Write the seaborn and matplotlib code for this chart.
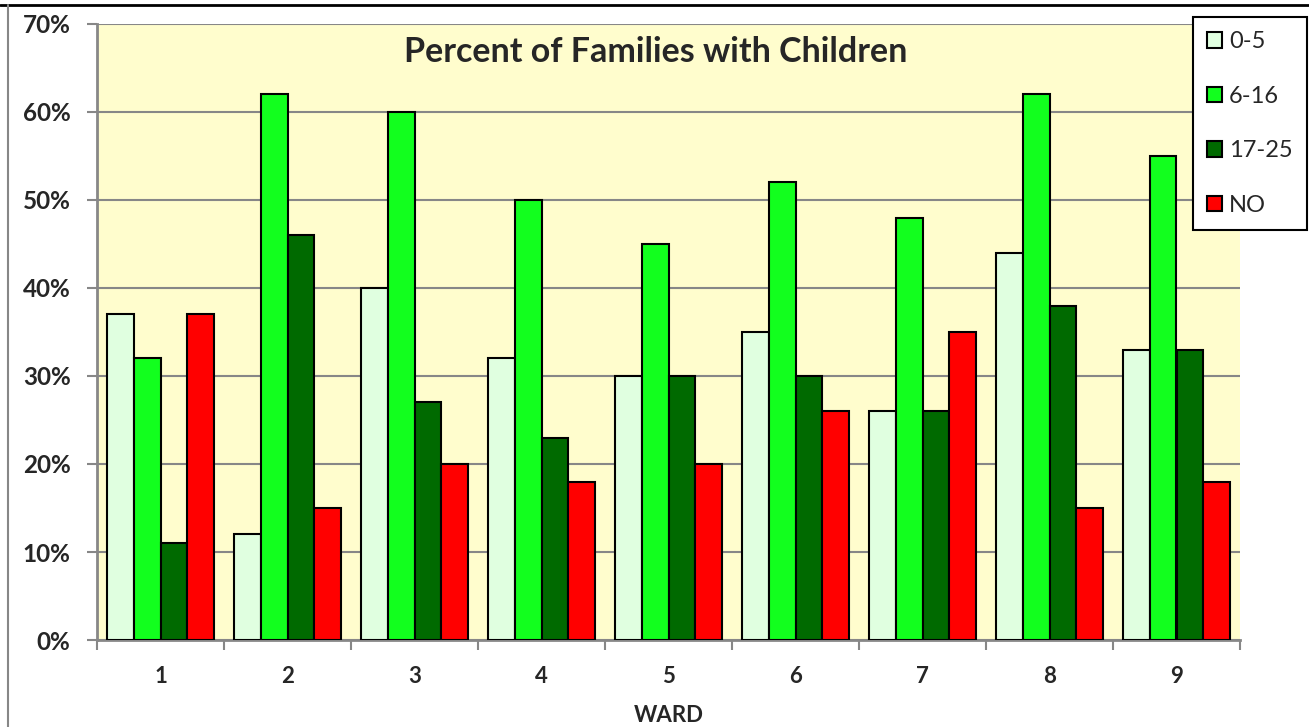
import matplotlib
matplotlib.use("Agg")
import matplotlib.pyplot as plt
import seaborn as sns
import pandas as pd
import numpy as np
from matplotlib.ticker import FixedLocator, PercentFormatter
from matplotlib.lines import Line2D

wards = ["1", "2", "3", "4", "5", "6", "7", "8", "9"]
groups = ["0-5", "6-16", "17-25", "NO"]
age_0_5 = [37, 12, 40, 32, 30, 35, 26, 44, 33]
age_6_16 = [32, 62, 60, 50, 45, 52, 48, 62, 55]
age_17_25 = [11, 46, 27, 23, 30, 30, 26, 38, 33]
no_children = [37, 15, 20, 18, 20, 26, 35, 15, 18]
colors = ["#E0FFE0", "#12FF1E", "#006A00", "#FF0000"]

series = [age_0_5, age_6_16, age_17_25, no_children]
rows = []
for g, vals in zip(groups, series):
    for w, v in zip(wards, vals):
        rows.append({"WARD": w, "Group": g, "Percent": v / 100.0})
df = pd.DataFrame(rows)

sns.set_theme(style="white")
plt.rcParams["font.family"] = ["Lato", "DejaVu Sans"]

fig = plt.figure(figsize=(13.09, 7.27), dpi=100)
W, H = 1309, 727
ax = fig.add_axes([97 / W, 1 - 640 / H, (1240 - 97) / W, (640 - 24) / H])
ax.set_facecolor("#FFFDCD")

sns.barplot(data=df, x="WARD", y="Percent", hue="Group", hue_order=groups,
            order=wards, palette=colors, width=0.85, gap=0,
            edgecolor="black", linewidth=1.5, saturation=1, ax=ax, zorder=3)

ax.set_ylim(0, 0.7)
ax.set_xlim(-0.5, len(wards) - 0.5)
ax.yaxis.set_major_locator(FixedLocator(np.arange(0, 0.71, 0.1)))
ax.yaxis.set_major_formatter(PercentFormatter(1.0, decimals=0))
ax.grid(axis="y", color="#878787", linewidth=1.5, zorder=0)
ax.set_axisbelow(True)

for s in ["top", "right"]:
    ax.spines[s].set_visible(False)
for s in ["left", "bottom"]:
    ax.spines[s].set_color("#878787")
    ax.spines[s].set_linewidth(2)

ax.tick_params(axis="y", which="major", direction="out", length=7, width=1.5,
               color="#878787", pad=12, left=True, labelsize=17.5)
for t in ax.get_yticklabels():
    t.set_fontweight("bold")

ax.xaxis.set_minor_locator(FixedLocator(np.arange(-0.5, len(wards), 1.0)))
ax.tick_params(axis="x", which="minor", direction="out", length=7, width=1.5,
               color="#878787", bottom=True)
ax.tick_params(axis="x", which="major", length=0, pad=19, labelsize=16)
for t in ax.get_xticklabels():
    t.set_fontweight("bold")

ax.set_ylabel("")
ax.set_xlabel("WARD", fontsize=16, fontweight="bold", labelpad=13)

ax.text(0.489, 0.955, "Percent of Families with Children", transform=ax.transAxes,
        ha="center", va="center", fontsize=24.5, fontweight="bold", zorder=5)

handles, labels = ax.get_legend_handles_labels()
if ax.get_legend() is not None:
    ax.get_legend().remove()
leg = fig.legend(handles, labels, loc="upper right",
                 bbox_to_anchor=(1307 / W, 1 - 17 / H), bbox_transform=fig.transFigure,
                 fontsize=17, frameon=True, fancybox=False, borderaxespad=0,
                 handlelength=0.65, handleheight=0.65, handletextpad=0.3,
                 labelspacing=1.42, borderpad=0.6)
leg.get_frame().set_edgecolor("black")
leg.get_frame().set_linewidth(1.5)
leg.get_frame().set_facecolor("white")
leg.get_frame().set_alpha(1)
leg.set_zorder(10)

# outer chart frame (top and left edge, as in the cropped source)
fig.add_artist(Line2D([0, 1], [1 - 5 / H, 1 - 5 / H], transform=fig.transFigure,
                      color="black", linewidth=2))
fig.add_artist(Line2D([8 / W, 8 / W], [0, 1 - 5 / H], transform=fig.transFigure,
                      color="#878787", linewidth=1.5))

fig.savefig("out.png", dpi=100)
